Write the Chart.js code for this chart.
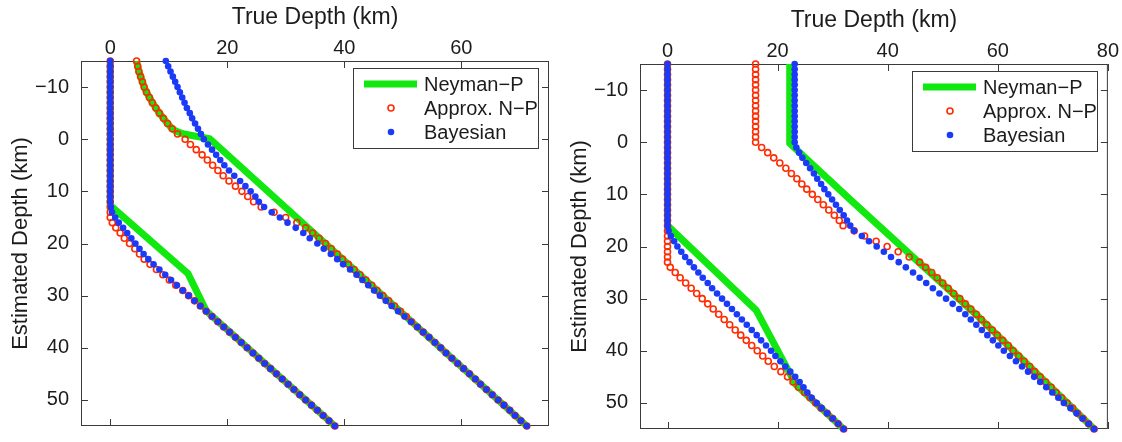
<!DOCTYPE html>
<html>
<head>
<meta charset="utf-8">
<script src="https://cdn.jsdelivr.net/npm/chart.js@4.4.1/dist/chart.umd.min.js"></script>
<style>
  html, body { margin: 0; padding: 0; background: #fff; overflow: hidden; }
  .panel { position: absolute; top: 0; width: 561px; height: 442px; }
  #left { left: 0; }
  #right { left: 559px; top: 3px; }
</style>
</head>
<body>
<div class="panel" id="left"><canvas id="chart-1"></canvas></div>
<div class="panel" id="right"><canvas id="chart-2"></canvas></div>
<script>
// estimated depth (km), one marker per km
var estDepth = [-15, -14, -13, -12, -11, -10, -9, -8, -7, -6, -5, -4, -3, -2, -1, 0,
    1, 2, 3, 4, 5, 6, 7, 8, 9, 10, 11, 12, 13, 14, 15, 16, 17, 18, 19, 20,
    21, 22, 23, 24, 25, 26, 27, 28, 29, 30, 31, 32, 33, 34, 35, 36, 37, 38, 39, 40,
    41, 42, 43, 44, 45, 46, 47, 48, 49, 50, 51, 52, 53, 54, 55];

// left panel - true depth bounds
var leftApproxLower = [0, 0, 0, 0, 0, 0, 0, 0, 0, 0, 0, 0, 0, 0, 0, 0,
    0, 0, 0, 0, 0, 0, 0, 0, 0, 0, 0, 0, 0, 0, 0, 0.35, 0.95, 1.7, 2.4, 3.3,
    4.2, 5.0, 5.8, 6.8, 7.9, 9.0, 10.1, 11.2, 12.4, 13.4, 14.4, 15.4, 16.4, 17.4, 18.4, 19.4, 20.4, 21.4, 22.4, 23.4,
    24.4, 25.4, 26.4, 27.4, 28.4, 29.4, 30.4, 31.4, 32.4, 33.4, 34.4, 35.4, 36.4, 37.4, 38.4];
var leftApproxUpper = [4.5, 4.7, 4.9, 5.2, 5.5, 5.8, 6.2, 6.7, 7.2, 7.8, 8.4, 9.1, 9.8, 10.6, 11.5, 12.8,
    13.7, 14.7, 15.7, 16.6, 17.5, 18.4, 19.3, 20.3, 21.4, 22.5, 23.5, 24.5, 25.8, 28.0, 30.0, 31.9, 33.4, 34.6, 35.7, 36.8,
    37.8, 38.8, 39.7, 40.7, 41.7, 42.7, 43.7, 44.7, 45.6, 46.6, 47.6, 48.6, 49.6, 50.6, 51.5, 52.5, 53.5, 54.5, 55.5, 56.5,
    57.4, 58.4, 59.4, 60.4, 61.4, 62.4, 63.3, 64.3, 65.3, 66.3, 67.3, 68.3, 69.2, 70.2, 71.2];
var leftBayesLower = [0, 0, 0, 0, 0, 0, 0, 0, 0, 0, 0, 0, 0, 0, 0, 0,
    0, 0, 0, 0, 0, 0, 0, 0, 0, 0, 0, 0, 0.1, 0.3, 0.85, 1.45, 2.2, 2.9, 3.6, 4.3,
    5.0, 5.7, 6.5, 7.4, 8.4, 9.4, 10.4, 11.4, 12.4, 13.4, 14.4, 15.4, 16.4, 17.4, 18.4, 19.4, 20.4, 21.4, 22.4, 23.4,
    24.4, 25.4, 26.4, 27.4, 28.4, 29.4, 30.4, 31.4, 32.4, 33.4, 34.4, 35.4, 36.4, 37.4, 38.4];
var leftBayesUpper = [9.5, 9.9, 10.3, 10.7, 11.1, 11.5, 11.9, 12.3, 12.7, 13.1, 13.6, 14.0, 14.5, 15.0, 15.5, 16.0,
    16.7, 17.4, 18.1, 18.8, 19.5, 20.3, 21.2, 22.2, 23.1, 24.0, 24.8, 25.4, 26.3, 27.6, 29.0, 30.3, 31.7, 33.0, 34.1, 35.4,
    36.5, 37.7, 38.8, 39.8, 41.0, 42.1, 43.1, 44.1, 45.1, 46.1, 47.1, 48.1, 49.2, 50.3, 51.4, 52.5, 53.5, 54.5, 55.5, 56.5,
    57.4, 58.4, 59.4, 60.4, 61.4, 62.4, 63.3, 64.3, 65.3, 66.3, 67.3, 68.3, 69.2, 70.2, 71.2];
var leftNPLowerX = [0, 0, 13.3, 16.4, 38.4];
var leftNPLowerY = [-15, 12.7, 25.8, 32.9, 55];
var leftNPUpperX = [4.5, 4.7, 4.9, 5.2, 5.5, 5.8, 6.2, 6.7, 7.2, 7.8, 8.4, 9.1, 9.8, 10.6, 11.3, 12.6, 17.0, 71.2];
var leftNPUpperY = [-15, -14, -13, -12, -11, -10, -9, -8, -7, -6, -5, -4, -3, -2, -1.5, -1.0, -0.1, 55];

// right panel - true depth bounds
var rightApproxLower = [0, 0, 0, 0, 0, 0, 0, 0, 0, 0, 0, 0, 0, 0, 0, 0,
    0, 0, 0, 0, 0, 0, 0, 0, 0, 0, 0, 0, 0, 0, 0, 0, 0, 0, 0, 0,
    0, 0, 0, 0.5, 1.4, 2.3, 3.3, 4.3, 5.3, 6.3, 7.3, 8.3, 9.3, 10.3, 11.3, 12.3, 13.3, 14.3, 15.3, 16.3,
    17.3, 18.3, 19.4, 20.6, 21.8, 22.8, 23.8, 24.9, 25.9, 26.9, 27.9, 29.0, 30.0, 31.0, 32.0];
var rightApproxUpper = [16.0, 16.0, 16.0, 16.0, 16.0, 16.0, 16.0, 16.0, 16.0, 16.0, 16.0, 16.0, 16.0, 16.0, 16.0, 16.0,
    17.1, 18.2, 19.3, 20.4, 21.5, 22.5, 23.5, 24.4, 25.3, 26.3, 27.3, 28.3, 29.3, 30.3, 31.2, 31.9, 33.9, 35.8, 37.9, 39.9,
    41.9, 43.9, 45.8, 46.9, 48.0, 49.0, 50.0, 51.0, 52.0, 53.1, 54.1, 55.1, 56.1, 57.0, 58.0, 59.0, 59.9, 60.9, 61.9, 62.8,
    63.8, 64.8, 65.8, 66.7, 67.7, 68.7, 69.7, 70.6, 71.6, 72.6, 73.6, 74.5, 75.5, 76.5, 77.5];
var rightBayesLower = [0, 0, 0, 0, 0, 0, 0, 0, 0, 0, 0, 0, 0, 0, 0, 0,
    0, 0, 0, 0, 0, 0, 0, 0, 0, 0, 0, 0, 0, 0, 0, 0, 0.2, 0.6, 1.2, 1.8,
    2.5, 3.2, 4.0, 4.8, 5.6, 6.4, 7.3, 8.1, 9.0, 9.9, 10.8, 11.7, 12.6, 13.5, 14.4, 15.3, 16.2, 17.0, 17.9, 18.8,
    19.6, 20.5, 21.4, 22.3, 23.2, 24.0, 24.7, 25.4, 26.2, 27.1, 28.0, 29.0, 30.0, 31.0, 32.0];
var rightBayesUpper = [23.1, 23.1, 23.1, 23.1, 23.1, 23.1, 23.1, 23.1, 23.1, 23.1, 23.1, 23.1, 23.1, 23.1, 23.1, 23.1,
    23.4, 23.9, 24.5, 25.2, 25.9, 26.6, 27.2, 27.9, 28.5, 29.2, 29.9, 30.6, 31.3, 32.0, 32.6, 33.2, 33.9, 35.3, 36.6, 38.0,
    39.3, 40.6, 42.0, 43.3, 44.6, 45.8, 47.0, 48.2, 49.4, 50.6, 51.8, 53.0, 54.1, 55.1, 56.1, 57.1, 58.1, 59.1, 60.1, 61.1,
    62.2, 63.3, 64.4, 65.5, 66.6, 67.7, 68.8, 69.9, 71.0, 72.0, 73.2, 74.3, 75.4, 76.5, 77.5];
var rightNPLowerX = [0, 0, 16.1, 23.3, 32.0];
var rightNPLowerY = [-15, 16.0, 32.2, 46.5, 55];
var rightNPUpperX = [22.2, 22.2, 33.2, 56.2, 77.5];
var rightNPUpperY = [-15, 0.2, 11.0, 33.2, 55];

var xTicksLeft = [0, 20, 40, 60];
var xTicksRight = [0, 20, 40, 60, 80];
var yTicks = [-10, 0, 10, 20, 30, 40, 50];

var GREEN = '#10e810';
var RED = '#ff2a00';
var BLUE = '#1a3af8';
var INK = '#1c1c1c';
var FRAME = '#3a3a3a';
var FONT = "'Liberation Sans', Arial, Helvetica, sans-serif";

function points(xs, ys) {
    return xs.map(function (x, i) { return { x: x, y: ys[i] }; });
}

function minusSign(v) {
    return String(v).replace('-', '\u2212');
}

function fixedTicks(list) {
    return function (axis) {
        axis.ticks = list.map(function (v) { return { value: v }; });
    };
}

// box around the axes with inward tick marks on all four sides
var framePlugin = {
    id: 'frame',
    beforeDatasetsDraw: function (chart) {
        var ctx = chart.ctx, a = chart.chartArea;
        var xs = chart.scales.x, ys = chart.scales.y;
        var len = 7;
        ctx.save();
        ctx.strokeStyle = FRAME;
        ctx.lineWidth = 1;
        ctx.strokeRect(a.left + 0.5, a.top + 0.5, a.right - a.left - 1, a.bottom - a.top - 1);
        ctx.beginPath();
        xs.ticks.forEach(function (t) {
            var px = Math.round(xs.getPixelForValue(t.value)) + 0.5;
            ctx.moveTo(px, a.top); ctx.lineTo(px, a.top + len);
            ctx.moveTo(px, a.bottom); ctx.lineTo(px, a.bottom - len);
        });
        ys.ticks.forEach(function (t) {
            var py = Math.round(ys.getPixelForValue(t.value)) + 0.5;
            ctx.moveTo(a.left, py); ctx.lineTo(a.left + len, py);
            ctx.moveTo(a.right, py); ctx.lineTo(a.right - len, py);
        });
        ctx.stroke();
        ctx.restore();
    }
};

// legend box inside the top right corner of the axes
var legendPlugin = {
    id: 'boxLegend',
    afterDraw: function (chart) {
        var ctx = chart.ctx, a = chart.chartArea;
        var w = 185, h = 80;
        var left = Math.round(a.right - 11 - w), top = Math.round(a.top + 7);
        ctx.save();
        ctx.fillStyle = '#fff';
        ctx.fillRect(left, top, w, h);
        ctx.strokeStyle = FRAME;
        ctx.lineWidth = 1;
        ctx.strokeRect(left + 0.5, top + 0.5, w, h);
        var items = chart.data.datasets.filter(function (d) { return d.legendText; });
        items.forEach(function (d, i) {
            var cy = top + 16 + i * 24;
            var mx = left + 38;
            if (d.showLine) {
                ctx.strokeStyle = d.borderColor;
                ctx.lineWidth = d.borderWidth;
                ctx.beginPath();
                ctx.moveTo(left + 11, cy); ctx.lineTo(left + 64, cy);
                ctx.stroke();
            } else if (d.pointBorderWidth > 0) {
                ctx.strokeStyle = d.pointBorderColor;
                ctx.lineWidth = d.pointBorderWidth;
                ctx.beginPath();
                ctx.arc(mx, cy, d.pointRadius, 0, Math.PI * 2);
                ctx.stroke();
            } else {
                ctx.fillStyle = d.pointBackgroundColor;
                ctx.beginPath();
                ctx.arc(mx, cy, d.pointRadius, 0, Math.PI * 2);
                ctx.fill();
            }
            ctx.fillStyle = INK;
            ctx.font = '20px ' + FONT;
            ctx.textBaseline = 'middle';
            ctx.textAlign = 'left';
            ctx.fillText(d.legendText, left + 71, cy + 1);
        });
        ctx.restore();
    }
};

function makeChart(id, xMax, s) {
    return new Chart(document.getElementById(id), {
        type: 'scatter',
        data: {
            datasets: [{
                legendText: 'Neyman\u2212P',
                data: points(s.npLowerX, s.npLowerY),
                showLine: true,
                borderColor: GREEN,
                borderWidth: 7,
                pointRadius: 0,
                clip: false,
                order: 2
            }, {
                data: points(s.npUpperX, s.npUpperY),
                showLine: true,
                borderColor: GREEN,
                borderWidth: 7,
                pointRadius: 0,
                clip: false,
                order: 2
            }, {
                legendText: 'Approx. N\u2212P',
                data: points(s.approxLower, estDepth).concat(points(s.approxUpper, estDepth)),
                pointRadius: 3.0,
                pointBorderWidth: 1.6,
                pointBorderColor: RED,
                pointBackgroundColor: 'rgba(0,0,0,0)',
                clip: false,
                order: 1
            }, {
                legendText: 'Bayesian',
                data: points(s.bayesLower, estDepth).concat(points(s.bayesUpper, estDepth)),
                pointRadius: 3.3,
                pointBorderWidth: 0,
                pointBorderColor: BLUE,
                pointBackgroundColor: BLUE,
                clip: false,
                order: 0
            }]
        },
        options: {
            responsive: true,
            maintainAspectRatio: false,
            animation: false,
            events: [],
            layout: { padding: { left: 0, top: 0, right: 12, bottom: 12 } },
            plugins: {
                legend: { display: false },
                tooltip: { enabled: false }
            },
            scales: {
                x: {
                    type: 'linear',
                    position: 'top',
                    min: -5,
                    max: xMax,
                    grid: { display: false },
                    border: { display: false },
                    afterBuildTicks: fixedTicks(s.xTicks),
                    ticks: {
                        padding: 1,
                        maxRotation: 0,
                        color: INK,
                        font: { family: FONT, size: 20, lineHeight: 0.4 },
                        callback: minusSign
                    },
                    title: {
                        display: true,
                        text: 'True Depth (km)',
                        color: INK,
                        font: { family: FONT, size: 23 },
                        padding: { top: 4, bottom: 0 }
                    },
                    afterFit: function (axis) { axis.height = 61; }
                },
                y: {
                    type: 'linear',
                    reverse: true,
                    min: -15,
                    max: 55,
                    grid: { display: false },
                    border: { display: false },
                    afterBuildTicks: fixedTicks(yTicks),
                    ticks: {
                        padding: 4,
                        color: INK,
                        font: { family: FONT, size: 20 },
                        callback: minusSign
                    },
                    title: {
                        display: true,
                        text: 'Estimated Depth (km)',
                        color: INK,
                        font: { family: FONT, size: 22 },
                        padding: { top: 8, bottom: 0 }
                    },
                    afterFit: function (axis) { axis.width = 81; }
                }
            }
        },
        plugins: [framePlugin, legendPlugin]
    });
}

makeChart('chart-1', 75, {
    approxLower: leftApproxLower, approxUpper: leftApproxUpper,
    bayesLower: leftBayesLower, bayesUpper: leftBayesUpper,
    npLowerX: leftNPLowerX, npLowerY: leftNPLowerY,
    npUpperX: leftNPUpperX, npUpperY: leftNPUpperY,
    xTicks: xTicksLeft
});

makeChart('chart-2', 80, {
    approxLower: rightApproxLower, approxUpper: rightApproxUpper,
    bayesLower: rightBayesLower, bayesUpper: rightBayesUpper,
    npLowerX: rightNPLowerX, npLowerY: rightNPLowerY,
    npUpperX: rightNPUpperX, npUpperY: rightNPUpperY,
    xTicks: xTicksRight
});
</script>
</body>
</html>
